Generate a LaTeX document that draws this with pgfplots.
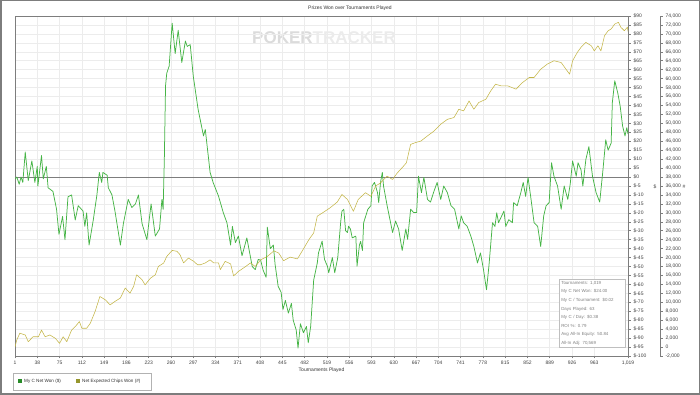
\documentclass[border=0pt]{standalone}
\usepackage{fontspec}
\setmainfont{Liberation Sans}
\usepackage{pgfplots}
\pgfplotsset{compat=1.18}
\definecolor{gline}{RGB}{70,180,70}
\definecolor{yline}{RGB}{196,182,72}
\definecolor{gridc}{RGB}{236,236,236}
\definecolor{axc}{RGB}{125,125,125}
\definecolor{lgreen}{RGB}{40,140,40}
\definecolor{lolive}{RGB}{150,150,45}
\pgfplotstableread{
t v
1 -1
4 0
8 -4
11 0
14 -3
18 14
23 -2
29 9
34 -3
38 6
39 -5
45 12
48 -1
53 6
56 -6
64 -8
70 -18
74 -32
80 -22
84 -35
89 -11
95 -10
101 -24
106 -16
114 -19
117 -27.5
120 -20
124 -38
131 -24
137 -10
141 2.6
145 -3
147 2.6
154 1
156 -6
162 -10
167 -19
176 -38
181 -26
189 -12.5
195 -17
201 -15
206 -10
212 -26
220 -35
227 -15
234 -33
241 -29
245 -12.5
247 -18
249 10
251 51
253 58
257 62
262 86
267 69
272 82
278 64
284 76
287 73
292 74
297 56.5
305 38
314 23
317 26.6
325 2.6
330 -3
339 -10.7
347 -20
353 -25.6
359 -38
362 -27.6
367 -36.6
372 -33
378 -44
386 -34
395 -50
400 -51.7
405 -46
409 -46.5
413 -52
418 -56
420 -28
425 -40
430 -38
433 -49
438 -61
443 -64.5
446 -74
450 -69
455 -76
460 -70.6
463 -80
468 -85.5
471 -95.6
475 -82
480 -87
485 -83.5
488 -92.6
492 -83.5
497 -57.6
503 -48
505 -42.4
511 -35.8
515 -46
520 -50
522 -53.5
528 -45
532 -53.5
537 -45
542 -24.6
544 -19
547 -18
550 -30
553 -31
555 -27.5
558 -29
561 -34
567 -33
569 -49.8
573 -38
575 -36
578 -41
580 -25.5
587 -18
592 -16
594 -5
598 -3
603 -8.7
605 -14.3
608 -3
611 2.6
613 -5
619 -16
628 -31
633 -24.6
638 -29
644 -41
650 -29
653 -34.8
658 -18
663 -19.8
668 -19.8
671 0.5
676 -8.7
680 -0.2
686 -12.5
691 -14
696 -8.7
702 -3
708 -12.5
713 -5
719 -8.7
725 -16
731 -18
738 -29
742 -21.7
746 -25.5
752 -27.6
758 -33
763 -38.8
769 -48
774 -42.4
779 -51.7
784 -63
788 -49.8
794 -25.5
798 -27.6
801 -20
804 -25.5
813 -19
816 -27.6
821 -23.8
827 -25.5
829 -14.3
835 -16
841 -8.7
845 -3
849 -10.8
853 -0.2
858 -12.5
863 -25.5
869 -27.6
874 -38.8
879 -21.7
883 -16
888 -14.3
892 8
896 0.5
902 -5
908 -18
913 -5
919 -12.5
923 -4
927 9
933 0.5
936 8
941 4
944 -5
949 9.8
954 17
960 0.5
966 -8.7
972 -14
977 2.6
982 20.8
986 15
991 19
993 41.7
997 53.8
1002 47
1006 39.6
1010 28.5
1014 23
1017 27.6
1019 24
}\netwon
\pgfplotstableread{
t c
1 0
4 1600
9 3100
18 2700
23 1200
31 2300
40 2300
45 3800
51 2300
59 2700
68 1950
75 830
81 2300
87 1200
95 3800
101 4560
108 5700
112 4200
120 4200
126 5300
134 7950
142 11300
151 10550
159 9430
167 10200
176 10950
184 13200
192 12050
198 13550
203 16150
212 15050
217 13900
226 15400
234 16150
239 18000
248 18800
253 20250
262 21600
270 21400
275 20650
281 18800
289 19900
298 19150
304 18400
309 18400
317 18800
325 19500
331 18800
339 18800
342 17300
350 19150
359 18600
364 15900
372 16900
384 18000
392 18800
400 18000
409 19500
420 20250
431 21500
439 21000
447 19300
458 20100
470 19700
481 22150
489 24000
497 25500
503 29250
514 30200
525 31200
536 32400
544 34100
553 33000
563 30350
571 33000
583 34500
592 33700
600 36000
608 36700
619 38200
628 37450
636 38950
644 40100
651 41200
658 45300
666 45700
675 46050
686 47200
697 48300
708 49800
719 50900
730 51300
738 53150
746 52800
755 55000
763 53150
771 54650
783 55400
791 57250
799 58750
808 58400
819 58400
833 57650
844 59150
855 60250
863 60250
874 62100
885 63250
896 64000
908 63600
916 62100
922 61000
927 64000
935 65900
941 67000
949 68100
958 67350
963 66200
969 67350
974 66200
980 69600
986 70700
991 71100
997 72200
1003 72600
1007 71500
1013 70700
1018 71500
1019 70569
}\chips
\begin{document}
\begin{tikzpicture}[x=1pt,y=1pt]
\useasboundingbox (0,0) rectangle (700,395);
\draw[axc, line width=1.5pt] (0.75,0.75) rectangle (699.25,394.25);
% title
\node[font=\fontsize{5}{6}\selectfont, text=black!80] at (350,387) {Prizes Won over Tournaments Played};
% watermark
\node[font=\fontsize{17}{18}\selectfont\bfseries, inner sep=0pt] at (324,357) {\textcolor{black!14}{POKER}\textcolor{black!8}{TRACKER}};
\begin{axis}[at={(15pt,39pt)}, anchor=south west, scale only axis,
  width=613pt, height=340pt,
  xmin=1, xmax=1019, ymin=-100, ymax=90,
  axis line style={axc, line width=0.6pt},
  xtick pos=bottom, ytick pos=right, yticklabel pos=right,
  tick align=outside, major tick length=2.5pt,
  tick style={axc, line width=0.5pt},
  grid=major, grid style={gridc, line width=0.5pt},
  xtick={1,38,75,112,149,186,223,260,297,334,371,408,445,482,519,556,593,630,667,704,741,778,815,852,889,926,963,1019},
  xticklabels={1,38,75,112,149,186,223,260,297,334,371,408,445,482,519,556,593,630,667,704,741,778,815,852,889,926,963,{1,019}},
  ytick={-100,-95,...,90},
  yticklabels={\$-100,\$-95,\$-90,\$-85,\$-80,\$-75,\$-70,\$-65,\$-60,\$-55,\$-50,\$-45,\$-40,\$-35,\$-30,\$-25,\$-20,\$-15,\$-10,\$-5,\$0,\$5,\$10,\$15,\$20,\$25,\$30,\$35,\$40,\$45,\$50,\$55,\$60,\$65,\$70,\$75,\$80,\$85,\$90},
  tick label style={font=\fontsize{5}{6}\selectfont, text=black!75},
  xticklabel style={yshift=1pt},
  yticklabel style={xshift=-0.5pt},
  extra y ticks={0}, extra y tick labels={},
  extra y tick style={grid style={axc, line width=0.8pt}, major tick length=0pt},
  xlabel={Tournaments Played}, xlabel style={font=\fontsize{5}{6}\selectfont, text=black!80, yshift=4pt},
]
\addplot[gline, line width=0.75pt, line join=round] table[x=t, y=v] {\netwon};
\end{axis}
\begin{axis}[at={(15pt,39pt)}, anchor=south west, scale only axis,
  width=613pt, height=340pt,
  xmin=1, xmax=1019, ymin=-2000, ymax=74000,
  hide x axis, hide y axis]
\addplot[yline, line width=0.55pt, line join=round] table[x=t, y=c] {\chips};
\end{axis}
\begin{axis}[at={(47pt,39pt)}, anchor=south west, scale only axis,
  width=613pt, height=340pt,
  xmin=0, xmax=1, ymin=-2000, ymax=74000,
  hide x axis, axis y line*=right, scaled y ticks=false,
  axis line style={axc, line width=0.5pt},
  tick align=outside, major tick length=2.5pt,
  tick style={axc, line width=0.5pt},
  ytick={-2000,0,...,74000},
  yticklabels={{-2,000},0,{2,000},{4,000},{6,000},{8,000},{10,000},{12,000},{14,000},{16,000},{18,000},{20,000},{22,000},{24,000},{26,000},{28,000},{30,000},{32,000},{34,000},{36,000},{38,000},{40,000},{42,000},{44,000},{46,000},{48,000},{50,000},{52,000},{54,000},{56,000},{58,000},{60,000},{62,000},{64,000},{66,000},{68,000},{70,000},{72,000},{74,000}},
  yticklabel style={font=\fontsize{5}{6}\selectfont, text=black!75, xshift=-0.5pt},
]
\end{axis}
\node[font=\fontsize{5}{6}\selectfont, text=black!75] at (655,208) {\$};
\node[font=\fontsize{5}{6}\selectfont, text=black!75] at (684,208) {\#};
% stats box
\node[draw=black!25, fill=white, anchor=north west, inner sep=2pt, text width=62pt, align=left,
  font=\fontsize{4.4}{8.6}\selectfont, text=black!50, line width=0.6pt] at (559,116)
  {Tournaments: 1,019\\My C Net Won: \$24.00\\My C / Tournament: \$0.02\\Days Played: 63\\My C / Day: \$0.38\\ROI \%: 0.79\\Avg All-In Equity: 50.84\\All-In Adj: 70,569};
% legend
\draw[black!30, line width=0.6pt] (13,5) rectangle (151,22);
\fill[lgreen] (18,11.5) rectangle (22,15.5);
\node[anchor=west, font=\fontsize{4.6}{6}\selectfont, text=black!80, inner sep=0pt] at (24,13.5) {My C Net Won (\$)};
\fill[lolive] (76,11.5) rectangle (80,15.5);
\node[anchor=west, font=\fontsize{4.6}{6}\selectfont, text=black!80, inner sep=0pt] at (82,13.5) {Net Expected Chips Won (\#)};
\end{tikzpicture}
\end{document}
